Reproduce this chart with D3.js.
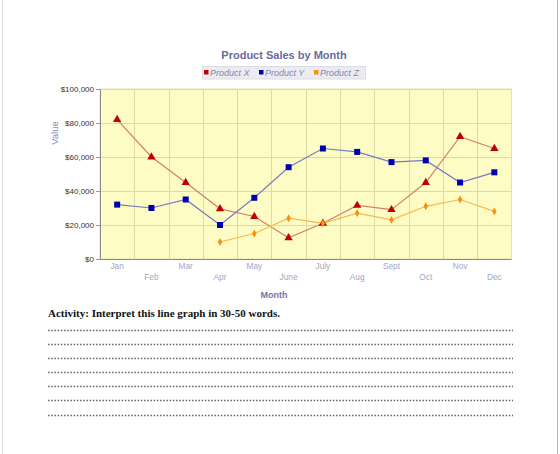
<!DOCTYPE html>
<html>
<head>
<meta charset="utf-8">
<script src="https://cdn.jsdelivr.net/npm/d3@7/dist/d3.min.js"></script>
<style>
  html, body { margin: 0; padding: 0; background: #ffffff; }
  svg { display: block; }
</style>
</head>
<body>
<svg id="chart" width="560" height="454"></svg>
<script>
const months = ["Jan","Feb","Mar","Apr","May","June","July","Aug","Sept","Oct","Nov","Dec"];
const productX = [82000, 60000, 45000, 29500, 25000, 12500, 21000, 31500, 29000, 45000, 72000, 65000];
const productY = [32000, 30000, 35000, 20000, 36000, 54000, 65000, 63000, 57000, 58000, 45000, 51000];
const productZ = [null, null, null, 10000, 15000, 24000, 21000, 27000, 23000, 31000, 35000, 28000];
const seriesNames = ["Product X", "Product Y", "Product Z"];
const yTicks = [0, 20000, 40000, 60000, 80000, 100000];
const titleText = "Product Sales by Month";
const xTitle = "Month";
const yTitle = "Value";
const activityText = "Activity: Interpret this line graph in 30-50 words.";
const answerLines = [1, 2, 3, 4, 5, 6, 7];

const svg = d3.select("#chart");

// page frame
svg.append("line").attr("x1", 2.5).attr("x2", 2.5).attr("y1", 0).attr("y2", 454).attr("stroke", "#e2e2e2").attr("stroke-width", 1);
svg.append("line").attr("x1", 557.5).attr("x2", 557.5).attr("y1", 0).attr("y2", 454).attr("stroke", "#b8b8b8").attr("stroke-width", 1);

const L = 100, R = 511.5, T = 89, B = 259;
const x = d3.scaleBand().domain(months).range([L, R]);
const y = d3.scaleLinear().domain([0, 100000]).range([B, T]);

// plot background
svg.append("rect").attr("x", L).attr("y", T).attr("width", R - L).attr("height", B - T)
  .attr("fill", "#fdfcc4").attr("stroke", "#e4e2b0").attr("stroke-width", 1);

// grid
const grid = svg.append("g");
grid.selectAll("line.h").data(yTicks.filter(d => d > 0)).join("line")
  .attr("x1", L).attr("x2", R).attr("y1", d => Math.round(y(d)) + 0.5).attr("y2", d => Math.round(y(d)) + 0.5)
  .attr("stroke", "#dcdaa6").attr("stroke-width", 1);
grid.selectAll("line.v").data(months.slice(1)).join("line")
  .attr("x1", d => Math.round(x(d)) + 0.5).attr("x2", d => Math.round(x(d)) + 0.5)
  .attr("y1", T).attr("y2", B)
  .attr("stroke", "#dcdaa6").attr("stroke-width", 1);

// y axis
const yAxis = d3.axisLeft(y).tickValues(yTicks).tickSize(4).tickPadding(2)
  .tickFormat(d => "$" + d3.format(",")(d));
const gy = svg.append("g").attr("transform", `translate(${L},0)`).call(yAxis);
gy.select(".domain").attr("stroke", "#888888");
gy.selectAll(".tick line").attr("stroke", "#999999");
gy.selectAll(".tick text").attr("fill", "#333333").style("font-family", "Liberation Sans, Arial, sans-serif").style("font-size", "8px");

// x axis baseline
svg.append("line").attr("x1", L).attr("x2", R).attr("y1", B + 0.5).attr("y2", B + 0.5).attr("stroke", "#888888");

// x tick labels (staggered)
svg.append("g").selectAll("text").data(months).join("text")
  .attr("x", d => x(d) + x.bandwidth() / 2)
  .attr("y", (d, i) => i % 2 === 0 ? 269 : 280)
  .attr("text-anchor", "middle")
  .attr("fill", "#a4a4c4")
  .style("font-family", "Liberation Sans, Arial, sans-serif").style("font-size", "8.3px")
  .text(d => d);

// axis titles
svg.append("text").attr("x", 274).attr("y", 298).attr("text-anchor", "middle")
  .attr("fill", "#7474a8").style("font-family", "Liberation Sans, Arial, sans-serif")
  .style("font-size", "9px").style("font-weight", "bold").text(xTitle);
svg.append("text").attr("transform", "translate(58,133) rotate(-90)").attr("text-anchor", "middle")
  .attr("fill", "#8a8abc").style("font-family", "Liberation Sans, Arial, sans-serif")
  .style("font-size", "9.5px").text(yTitle);

// title
svg.append("text").attr("x", 284).attr("y", 59).attr("text-anchor", "middle")
  .attr("fill", "#6a6aa0").style("font-family", "Liberation Sans, Arial, sans-serif")
  .style("font-size", "11px").style("font-weight", "bold").text(titleText);

// legend
const lineColors = ["#d4806a", "#7878c0", "#f8b850"];
const markColors = ["#c00000", "#0000b0", "#f89010"];
svg.append("rect").attr("x", 202.5).attr("y", 66.5).attr("width", 163).attr("height", 12.5)
  .attr("fill", "#ececf0").attr("stroke", "#dcdce4");
const legX = [204, 259, 314];
const lg = svg.append("g");
seriesNames.forEach((n, i) => {
  lg.append("rect").attr("x", legX[i]).attr("y", 70).attr("width", 4.5).attr("height", 4.5).attr("fill", markColors[i]);
  lg.append("text").attr("x", legX[i] + 6).attr("y", 76).attr("fill", "#8484b4")
    .style("font-family", "Liberation Sans, Arial, sans-serif").style("font-size", "9px").style("font-style", "italic")
    .text(n);
});

// series
const cx = d => x(d) + x.bandwidth() / 2;
const allSeries = [productX, productY, productZ];
allSeries.forEach((vals, si) => {
  const pts = months.map((m, i) => ({ m, v: vals[i] })).filter(p => p.v !== null);
  const line = d3.line().x(p => cx(p.m)).y(p => y(p.v));
  svg.append("path").attr("d", line(pts)).attr("fill", "none")
    .attr("stroke", lineColors[si]).attr("stroke-width", 1.2);
});
// markers
const symTypes = [d3.symbolTriangle, d3.symbolSquare, d3.symbolDiamond];
const symSizes = [30, 36, 18];
allSeries.forEach((vals, si) => {
  const pts = months.map((m, i) => ({ m, v: vals[i] })).filter(p => p.v !== null);
  svg.append("g").selectAll("path").data(pts).join("path")
    .attr("transform", p => `translate(${cx(p.m)},${y(p.v)})`)
    .attr("d", d3.symbol().type(symTypes[si]).size(symSizes[si]))
    .attr("fill", markColors[si]);
});

// activity
svg.append("text").attr("x", 48).attr("y", 317)
  .attr("fill", "#111111").style("font-family", "Liberation Serif, Times New Roman, serif")
  .style("font-size", "11px").style("font-weight", "bold").text(activityText);

const lineY = d3.scaleLinear().domain([1, 7]).range([330, 414.5]);
svg.append("g").selectAll("line").data(answerLines).join("line")
  .attr("x1", 48).attr("x2", 513)
  .attr("y1", d => Math.round(lineY(d)) + 0.5).attr("y2", d => Math.round(lineY(d)) + 0.5)
  .attr("stroke", "#666666").attr("stroke-width", 1.4).attr("stroke-dasharray", "1.5,1.7");
</script>
</body>
</html>
